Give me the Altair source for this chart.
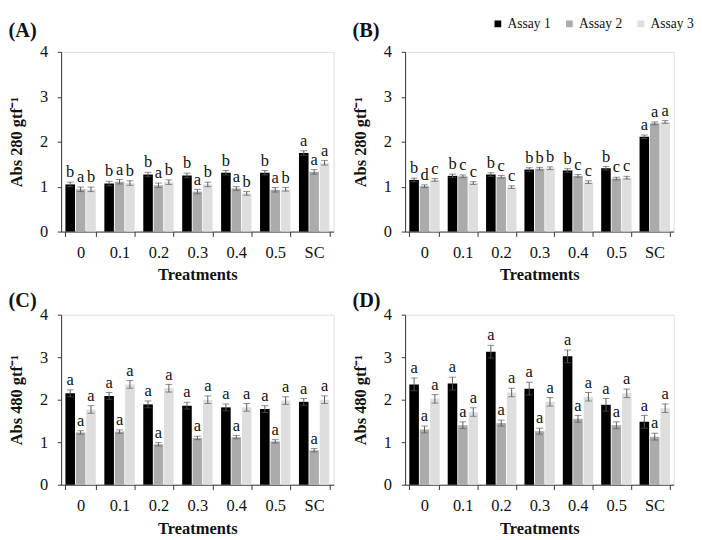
import altair as alt
import pandas as pd

treatments = ["0", "0.1", "0.2", "0.3", "0.4", "0.5", "SC"]
assays = ["Assay 1", "Assay 2", "Assay 3"]
colors = ["#000000", "#ababab", "#dedede"]

# Panel A (Abs 280)
a_assay1 = [1.05, 1.07, 1.27, 1.25, 1.31, 1.31, 1.75]
a_assay2 = [0.94, 1.11, 1.03, 0.89, 0.96, 0.93, 1.33]
a_assay3 = [0.94, 1.08, 1.10, 1.05, 0.85, 0.94, 1.53]
a_err1 = [0.05, 0.05, 0.05, 0.05, 0.05, 0.05, 0.05]
a_err2 = [0.05, 0.05, 0.05, 0.05, 0.04, 0.05, 0.05]
a_err3 = [0.05, 0.05, 0.05, 0.05, 0.04, 0.04, 0.05]
a_let1 = ["b", "b", "b", "b", "b", "b", "a"]
a_let2 = ["a", "a", "a", "a", "a", "a", "a"]
a_let3 = ["b", "b", "b", "b", "b", "b", "a"]

# Panel B (Abs 280)
b_assay1 = [1.15, 1.24, 1.27, 1.38, 1.36, 1.41, 2.11]
b_assay2 = [1.01, 1.23, 1.22, 1.40, 1.24, 1.18, 2.41]
b_assay3 = [1.15, 1.08, 0.99, 1.41, 1.10, 1.20, 2.44]
b_err1 = [0.04, 0.04, 0.04, 0.04, 0.04, 0.04, 0.04]
b_err2 = [0.03, 0.03, 0.03, 0.03, 0.03, 0.03, 0.03]
b_err3 = [0.03, 0.03, 0.03, 0.03, 0.03, 0.03, 0.03]
b_let1 = ["b", "b", "b", "b", "b", "b", "a"]
b_let2 = ["d", "c", "c", "b", "c", "c", "a"]
b_let3 = ["c", "c", "c", "b", "c", "c", "a"]

# Panel C (Abs 480)
c_assay1 = [2.15, 2.09, 1.89, 1.86, 1.82, 1.78, 1.95]
c_assay2 = [1.23, 1.25, 0.95, 1.10, 1.12, 1.02, 0.81]
c_assay3 = [1.77, 2.36, 2.27, 2.00, 1.82, 1.98, 2.00]
c_err1 = [0.08, 0.08, 0.08, 0.08, 0.08, 0.08, 0.08]
c_err2 = [0.04, 0.04, 0.04, 0.04, 0.04, 0.04, 0.04]
c_err3 = [0.09, 0.09, 0.09, 0.09, 0.09, 0.09, 0.09]
c_let1 = ["a", "a", "a", "a", "a", "a", "a"]
c_let2 = ["a", "a", "a", "a", "a", "a", "a"]
c_let3 = ["a", "a", "a", "a", "a", "a", "a"]

# Panel D (Abs 480)
d_assay1 = [2.36, 2.38, 3.13, 2.26, 3.02, 1.88, 1.48]
d_assay2 = [1.30, 1.40, 1.45, 1.26, 1.55, 1.40, 1.13]
d_assay3 = [2.02, 1.71, 2.17, 1.95, 2.07, 2.15, 1.80]
d_err1 = [0.15, 0.15, 0.15, 0.15, 0.15, 0.15, 0.15]
d_err2 = [0.08, 0.08, 0.07, 0.07, 0.08, 0.08, 0.08]
d_err3 = [0.10, 0.10, 0.10, 0.10, 0.10, 0.10, 0.10]
d_let1 = ["a", "a", "a", "a", "a", "a", "a"]
d_let2 = ["a", "a", "a", "a", "a", "a", "a"]
d_let3 = ["a", "a", "a", "a", "a", "a", "a"]

FONT = "Liberation Serif"


def make_df(vals, errs, lets):
    rows = []
    for assay, v, e, l in zip(assays, vals, errs, lets):
        for t, vv, ee, ll in zip(treatments, v, e, l):
            rows.append({"Treatment": t, "Assay": assay, "Value": vv,
                         "lo": vv - ee, "hi": vv + ee, "Letter": ll})
    return pd.DataFrame(rows)


legend_shared = alt.Legend(orient="none", legendX=445, legendY=-36, direction="horizontal",
                           title=None, symbolType="square", symbolSize=49,
                           symbolStrokeWidth=0, labelFont=FONT, labelFontSize=14,
                           labelColor="#111111", columnPadding=12, labelOffset=3,
                           padding=0)


def panel(df, label, ytitle, width, height, title_offset):
    yaxis = alt.Axis(title=ytitle, values=[0, 1, 2, 3, 4], grid=False,
                     tickSize=4, labelPadding=10, titlePadding=14,
                     domainColor="#333333", tickColor="#333333",
                     labelFont=FONT, labelFontSize=17, labelColor="#111111",
                     titleFont=FONT, titleFontSize=17, titleFontWeight="bold",
                     titleColor="#111111")
    yscale = alt.Scale(domain=[0, 4])
    base = alt.Chart(df).encode(
        x=alt.X("Treatment:N", sort=treatments,
                scale=alt.Scale(paddingInner=0.22, paddingOuter=0.11),
                axis=alt.Axis(title="Treatments", labelAngle=0, tickBand="extent",
                              tickSize=5, labelPadding=9, titlePadding=7,
                              domainColor="#333333", tickColor="#333333",
                              labelFont=FONT, labelFontSize=17, labelColor="#111111",
                              titleFont=FONT, titleFontSize=17, titleFontWeight="bold",
                              titleColor="#111111")),
        xOffset=alt.XOffset("Assay:N", sort=assays, scale=alt.Scale(paddingInner=0.08)),
    )
    bars = base.mark_bar().encode(
        y=alt.Y("Value:Q", scale=yscale, axis=yaxis),
        color=alt.Color("Assay:N", sort=assays,
                        scale=alt.Scale(domain=assays, range=colors),
                        legend=legend_shared),
    )
    rules = base.mark_rule(color="#5a5a5a", strokeWidth=1).encode(
        y=alt.Y("lo:Q", scale=yscale, axis=yaxis), y2="hi:Q")
    cap_hi = base.mark_tick(color="#5a5a5a", size=7, thickness=1).encode(
        y=alt.Y("hi:Q", scale=yscale, axis=yaxis))
    cap_lo = base.mark_tick(color="#5a5a5a", size=7, thickness=1).encode(
        y=alt.Y("lo:Q", scale=yscale, axis=yaxis))
    text = base.mark_text(baseline="alphabetic", dy=-5, font=FONT, fontSize=17,
                          color="#111111").encode(
        y=alt.Y("hi:Q", scale=yscale, axis=yaxis), text="Letter:N")
    return alt.layer(bars, rules, cap_hi, cap_lo, text).properties(
        width=width, height=height,
        title=alt.TitleParams(label, anchor="start", frame="bounds", font=FONT,
                              fontSize=21, fontWeight="bold", color="#111111",
                              offset=title_offset),
    )


pA = panel(make_df([a_assay1, a_assay2, a_assay3], [a_err1, a_err2, a_err3],
                   [a_let1, a_let2, a_let3]), "(A)", "Abs 280 gtf⁻¹", 282, 186, 2)
pB = panel(make_df([b_assay1, b_assay2, b_assay3], [b_err1, b_err2, b_err3],
                   [b_let1, b_let2, b_let3]), "(B)", "Abs 280 gtf⁻¹", 278, 186, 2)
pC = panel(make_df([c_assay1, c_assay2, c_assay3], [c_err1, c_err2, c_err3],
                   [c_let1, c_let2, c_let3]), "(C)", "Abs 480 gtf⁻¹", 282, 176, -5)
pD = panel(make_df([d_assay1, d_assay2, d_assay3], [d_err1, d_err2, d_err3],
                   [d_let1, d_let2, d_let3]), "(D)", "Abs 480 gtf⁻¹", 278, 176, -5)

top = alt.hconcat(pA, pB, spacing=18)
bottom = alt.hconcat(pC, pD, spacing=18)
chart = alt.vconcat(top, bottom, spacing=6).properties(
    padding=0
).configure_view(stroke=None).configure(background="white")

chart.save("out.html", embed_options={"renderer": "svg", "actions": False})
